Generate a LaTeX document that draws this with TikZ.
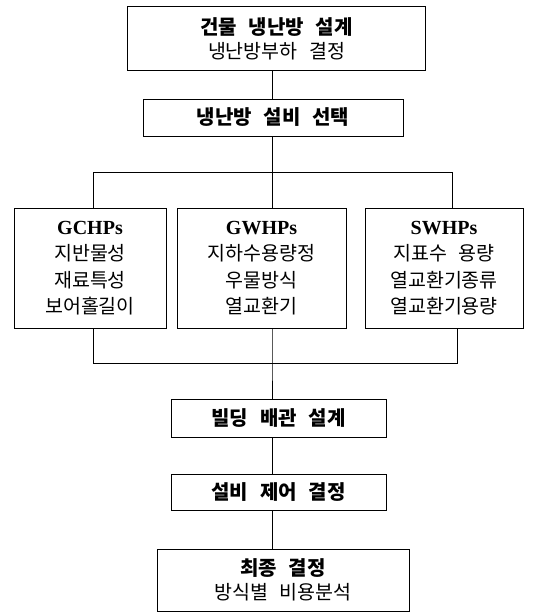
\documentclass[tikz,border=0pt]{standalone}
\usepackage{fontspec}
\setmainfont{Liberation Serif}
\newfontfamily\kr{Noto Sans CJK KR}[WordSpace=2.6]
\newcommand\hdkr{\kr\bfseries\fontsize{20}{24}\selectfont}
\newcommand\rgkr{\kr\fontsize{19.5}{24}\selectfont}
\newcommand\hdlat{\rmfamily\bfseries\fontsize{20}{26}\selectfont}
\begin{document}
\begin{tikzpicture}[x=1pt,y=-1pt,
  box/.style={draw, line width=0.8pt, inner sep=0pt, align=center},
  ln/.style={line width=0.8pt},
  two/.style={font=\kr\fontsize{19.5}{24}\selectfont},
  four/.style={font=\kr\fontsize{19.5}{26.5}\selectfont, minimum height=120pt}]
\useasboundingbox (0,0) rectangle (534,613);
% boxes
\node[box, two, minimum width=298pt, minimum height=64pt] (top) at (276.5,38.5)
  {{\hdkr 건물 냉난방 설계}\\{\rgkr 냉난방부하 결정}};
\node[box, two, minimum width=260pt, minimum height=37pt] (sel) at (273,117.5)
  {{\hdkr 냉난방 설비 선택}};
\node[box, four, minimum width=152pt] (gc) at (90,268)
  {{\hdlat GCHPs}\\지반물성\\재료특성\\보어홀길이};
\node[box, four, minimum width=169pt] (gw) at (261.5,268)
  {{\hdlat GWHPs}\\지하수용량정\\우물방식\\열교환기};
\node[box, four, minimum width=158pt] (sw) at (444,268)
  {{\hdlat SWHPs}\\지표수 용량\\열교환기종류\\열교환기용량};
\node[box, two, minimum width=215pt, minimum height=38pt] (pipe) at (278.5,418)
  {{\hdkr 빌딩 배관 설계}};
\node[box, two, minimum width=215pt, minimum height=36pt] (ctrl) at (278.5,492)
  {{\hdkr 설비 제어 결정}};
\node[box, two, minimum width=252pt, minimum height=62pt] (fin) at (283,580)
  {{\hdkr 최종 결정}\\{\rgkr 방식별 비용분석}};
% bus coordinates
\coordinate (c1) at (272,172);
\coordinate (l1) at (93,172);
\coordinate (r1) at (452,172);
\coordinate (l2) at (93,363);
\coordinate (c2) at (272,363);
\coordinate (r2) at (457,363);
% connectors
\draw[ln] (top.south -| c1) -- (sel.north -| c1);
\draw[ln] (sel.south -| c1) -- (c1);
\draw[ln] (gc.north -| l1) -- (l1) -- (r1) -- (sw.north -| r1);
\draw[ln] (c1) -- (gw.north -| c1);
\draw[ln] (gc.south -| l2) -- (l2) -- (r2) -- (sw.south -| r2);
\draw[ln] (gw.south -| c2) -- (c2) -- (pipe.north -| c2);
\draw[ln] (pipe.south -| c2) -- (ctrl.north -| c2);
\draw[ln] (ctrl.south -| c2) -- (fin.north -| c2);
\end{tikzpicture}
\end{document}
